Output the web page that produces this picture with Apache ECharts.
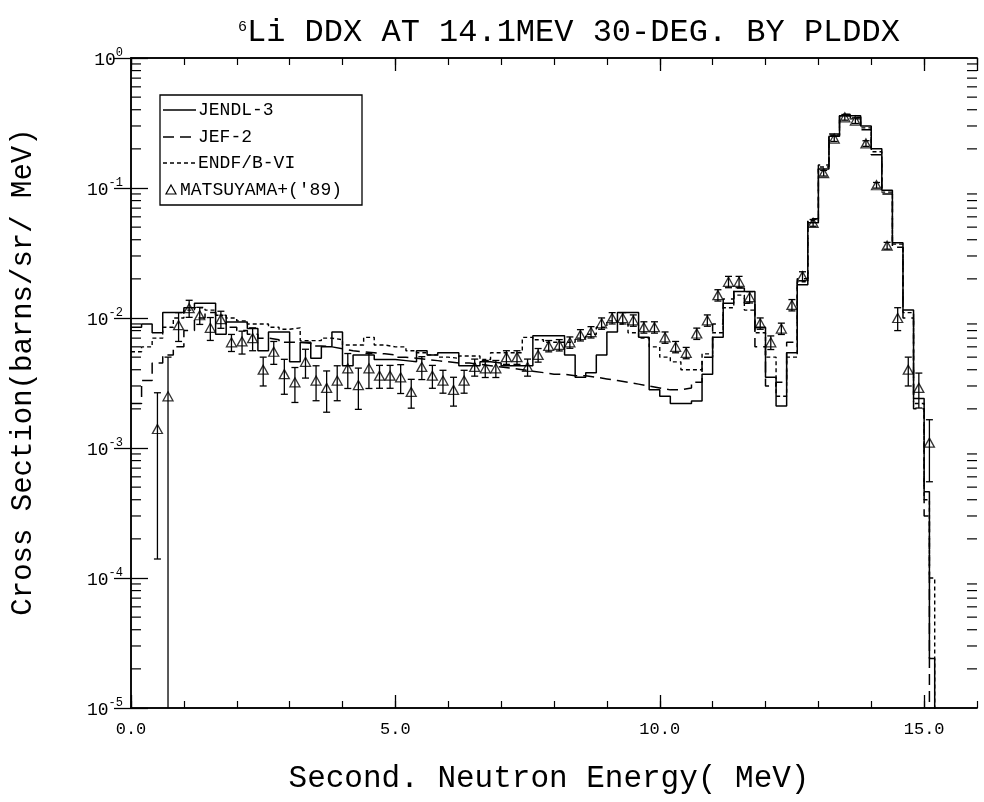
<!DOCTYPE html>
<html><head><meta charset="utf-8">
<script src="https://cdn.jsdelivr.net/npm/echarts@6.0.0/dist/echarts.min.js"></script>
<style>html,body{margin:0;padding:0;background:#fff}#c{width:984px;height:802px}</style>
</head><body><div id="c"></div>
<script>
const FONT = "'Liberation Mono','DejaVu Sans Mono',monospace";

// Histogram bin edges (MeV)
const binEdges = [0,0.2,0.4,0.6,0.8,1,1.2,1.4,1.6,1.8,2,2.2,2.4,2.6,2.8,3,3.2,3.4,3.6,3.8,4,4.2,4.4,4.6,4.8,5,5.2,5.4,5.6,5.8,6,6.2,6.4,6.6,6.8,7,7.2,7.4,7.6,7.8,8,8.2,8.4,8.6,8.8,9,9.2,9.4,9.6,9.8,10,10.2,10.4,10.6,10.8,11,11.2,11.4,11.6,11.8,12,12.2,12.4,12.6,12.8,13,13.2,13.4,13.6,13.8,14,14.2,14.4,14.6,14.8,15,15.1,15.2,15.6];

const jendl3 = [8.5e-3,9.0e-3,7.7e-3,1.1e-2,1.1e-2,1.2e-2,1.3e-2,1.3e-2,7.5e-3,9.3e-3,
 9.3e-3,8.3e-3,5.6e-3,7.8e-3,7.8e-3,4.6e-3,6.5e-3,4.9e-3,6.0e-3,7.8e-3,
 4.3e-3,5.2e-3,5.2e-3,4.8e-3,4.8e-3,4.7e-3,4.6e-3,5.6e-3,5.2e-3,5.4e-3,
 5.4e-3,4.3e-3,4.3e-3,4.6e-3,4.5e-3,4.3e-3,4.3e-3,4.3e-3,7.3e-3,7.3e-3,
 7.3e-3,5.2e-3,3.5e-3,3.8e-3,5.2e-3,7.8e-3,1.1e-2,1.1e-2,7.1e-3,2.8e-3,
 2.5e-3,2.2e-3,2.2e-3,2.3e-3,3.7e-3,7.1e-3,1.3e-2,1.6e-2,1.6e-2,8.5e-3,
 3.5e-3,2.1e-3,5.4e-3,1.8e-2,5.4e-2,0.14,0.25,0.36,0.36,0.30,
 0.20,0.096,0.038,1.15e-2,2.4e-3,4.6e-4,2.4e-5,1e-7];

const jef2 = [2.2e-3,3.3e-3,4.5e-3,5.2e-3,6.0e-3,8.0e-3,1.0e-2,1.1e-2,1.05e-2,8.5e-3,
 8.0e-3,7.5e-3,7.0e-3,6.8e-3,6.5e-3,6.5e-3,6.4e-3,6.1e-3,6.0e-3,5.8e-3,
 5.6e-3,5.5e-3,5.4e-3,5.3e-3,5.2e-3,5.0e-3,4.9e-3,4.8e-3,4.7e-3,4.6e-3,
 4.5e-3,4.5e-3,4.4e-3,4.3e-3,4.2e-3,4.1e-3,4.0e-3,3.9e-3,3.8e-3,3.7e-3,
 3.7e-3,3.6e-3,3.6e-3,3.5e-3,3.4e-3,3.3e-3,3.2e-3,3.1e-3,3.0e-3,2.9e-3,
 2.8e-3,2.8e-3,2.9e-3,3.2e-3,5.0e-3,9.0e-3,1.4e-2,1.7e-2,1.3e-2,6.0e-3,
 3.0e-3,3.2e-3,6.5e-3,2.0e-2,5.8e-2,0.15,0.26,0.37,0.35,0.28,
 0.18,0.09,0.035,1.0e-2,2.0e-3,3.0e-4,1e-7,1e-7];

const endfb6 = [5.5e-3,6.0e-3,7.0e-3,8.5e-3,1.0e-2,1.15e-2,1.2e-2,1.15e-2,1.05e-2,1.0e-2,
 9.5e-3,9.0e-3,9.0e-3,8.5e-3,8.2e-3,8.4e-3,6.7e-3,6.7e-3,7.0e-3,6.8e-3,
 6.2e-3,6.2e-3,7.1e-3,6.2e-3,6.0e-3,6.0e-3,5.6e-3,5.4e-3,5.2e-3,5.0e-3,
 4.9e-3,5.1e-3,5.1e-3,4.8e-3,5.4e-3,5.4e-3,5.4e-3,7.1e-3,6.8e-3,6.5e-3,
 6.5e-3,6.5e-3,7.0e-3,7.5e-3,8.5e-3,9.5e-3,9.0e-3,7.7e-3,7.0e-3,6.0e-3,
 5.0e-3,4.6e-3,4.0e-3,4.0e-3,5.3e-3,7.7e-3,1.2e-2,1.5e-2,1.15e-2,7.7e-3,
 5.0e-3,2.5e-3,5.0e-3,1.9e-2,5.6e-2,0.145,0.255,0.36,0.34,0.29,
 0.19,0.093,0.037,1.1e-2,2.2e-3,4.0e-4,1.0e-4,1e-7];

// Experiment (Matsuyama '89)
const expE = [0.5,0.7,0.9,1.1,1.3,1.5,1.7,1.9,2.1,2.3,2.5,2.7,2.9,3.1,3.3,3.5,3.7,3.9,4.1,4.3,4.5,4.7,4.9,5.1,5.3,5.5,5.7,5.9,6.1,6.3,6.5,6.7,6.9,7.1,7.3,7.5,7.7,7.9,8.1,8.3,8.5,8.7,8.9,9.1,9.3,9.5,9.7,9.9,10.1,10.3,10.5,10.7,10.9,11.1,11.3,11.5,11.7,11.9,12.1,12.3,12.5,12.7,12.9,13.1,13.3,13.5,13.7,13.9,14.1,14.3,14.5,14.7,14.9,15.1];
const expV = [1.4e-3,2.5e-3,8.8e-3,1.19e-2,1.05e-2,8.4e-3,9.8e-3,6.5e-3,6.6e-3,7.0e-3,
 4.0e-3,5.5e-3,3.7e-3,3.2e-3,4.6e-3,3.3e-3,2.9e-3,3.3e-3,4.1e-3,3.05e-3,
 4.1e-3,3.6e-3,3.6e-3,3.5e-3,2.7e-3,4.2e-3,3.6e-3,3.3e-3,2.8e-3,3.3e-3,
 4.2e-3,4.1e-3,4.1e-3,5.0e-3,5.0e-3,4.2e-3,5.2e-3,6.1e-3,6.2e-3,6.5e-3,
 7.4e-3,7.8e-3,9.1e-3,1.0e-2,1.0e-2,9.6e-3,8.5e-3,8.5e-3,7.1e-3,6.0e-3,
 5.4e-3,7.6e-3,9.6e-3,1.5e-2,1.9e-2,1.9e-2,1.45e-2,9.1e-3,6.5e-3,8.3e-3,
 1.26e-2,2.1e-2,5.4e-2,0.13,0.24,0.35,0.33,0.22,0.105,0.036,
 1.0e-2,4.0e-3,2.9e-3,1.1e-3];
const expRelErr = [0.9,1.0,0.25,0.15,0.15,0.2,0.15,0.15,0.2,0.2,
 0.25,0.2,0.3,0.3,0.25,0.3,0.35,0.3,0.3,0.35,
 0.3,0.2,0.2,0.25,0.25,0.2,0.2,0.2,0.25,0.2,
 0.15,0.15,0.15,0.12,0.12,0.15,0.12,0.1,0.1,0.1,
 0.1,0.1,0.1,0.1,0.1,0.1,0.1,0.1,0.1,0.1,
 0.1,0.1,0.1,0.1,0.1,0.1,0.1,0.1,0.12,0.1,
 0.1,0.08,0.06,0.05,0.05,0.05,0.05,0.05,0.05,0.06,
 0.2,0.25,0.3,0.5];

const xTickLabels = ['0.0','5.0','10.0','15.0'];
const yMin = 1e-5, yMax = 1;

function histPoints(vals){
  const pts = [];
  for (let i = 0; i < vals.length; i++){
    pts.push([binEdges[i], vals[i]]);
    pts.push([binEdges[i+1], vals[i]]);
  }
  return pts;
}
const expPts = expE.map((e,i)=>[e, expV[i]]);
const errPts = expE.map((e,i)=>{
  const lo = expV[i]*(1-expRelErr[i]), hi = expV[i]*(1+expRelErr[i]);
  return [e, Math.max(lo, yMin), hi, lo < yMin ? 0 : 1];
});
const minorY = [];
for (let k = -5; k < 0; k++) for (let m = 2; m <= 9; m++) minorY.push([0, m*Math.pow(10,k)]);

const chart = echarts.init(document.getElementById('c'), null, {renderer:'canvas'});
const axLine = {show:true, lineStyle:{color:'#000', width:1.5}};
const xBase = {type:'value', min:0, max:16, splitLine:{show:false}, axisLine:axLine};
const yBase = {type:'log', logBase:10, min:yMin, max:yMax, splitLine:{show:false}, axisLine:axLine};

chart.setOption({
  animation:false,
  backgroundColor:'#fff',
  grid:{left:131, right:7, top:58, bottom:94, containLabel:false},
  xAxis:[
    Object.assign({}, xBase, {position:'bottom', interval:5,
      axisTick:{show:true, inside:true, length:13, lineStyle:{color:'#000', width:1.3}},
      axisLabel:{show:true, margin:13, color:'#000', fontFamily:FONT, fontSize:17, showMaxLabel:false,
        formatter:v => (v % 5 === 0 && v <= 15) ? xTickLabels[v/5] : ''}}),
    Object.assign({}, xBase, {position:'bottom', interval:1,
      axisTick:{show:true, inside:true, length:7, lineStyle:{color:'#000', width:1.2}}, axisLabel:{show:false}}),
    Object.assign({}, xBase, {position:'top', interval:5,
      axisTick:{show:true, inside:true, length:13, lineStyle:{color:'#000', width:1.3}}, axisLabel:{show:false}}),
    Object.assign({}, xBase, {position:'top', interval:1,
      axisTick:{show:true, inside:true, length:7, lineStyle:{color:'#000', width:1.2}}, axisLabel:{show:false}})
  ],
  yAxis:[
    Object.assign({}, yBase, {position:'left',
      axisTick:{show:true, inside:true, length:17, lineStyle:{color:'#000', width:1.3}},
      axisLabel:{show:true, margin:8, color:'#000',
        formatter:v => { const e = Math.round(Math.log10(v)); return '{b|10}{s|' + (e === 0 ? '0' : ('-' + Math.abs(e))) + '}'; },
        rich:{ b:{fontFamily:FONT, fontSize:18, color:'#000', lineHeight:22, verticalAlign:'bottom'},
               s:{fontFamily:FONT, fontSize:12, color:'#000', lineHeight:12, verticalAlign:'top'} }}}),
    Object.assign({}, yBase, {position:'right',
      axisTick:{show:true, inside:true, length:17, lineStyle:{color:'#000', width:1.3}}, axisLabel:{show:false}})
  ],
  series:[
    {name:'JENDL-3', type:'line', data:histPoints(jendl3), symbol:'none', showSymbol:false, clip:true,
     lineStyle:{color:'#000', width:1.5, type:'solid'}, z:3},
    {name:'JEF-2', type:'line', data:histPoints(jef2), symbol:'none', showSymbol:false, clip:true,
     lineStyle:{color:'#000', width:1.5, type:[11,6]}, z:3},
    {name:'ENDF/B-VI', type:'line', data:histPoints(endfb6), symbol:'none', showSymbol:false, clip:true,
     lineStyle:{color:'#000', width:1.4, type:[4,3]}, z:3},
    {name:'errbars', type:'custom', data:errPts, encode:{x:0, y:[1,2]}, silent:true, z:4,
     renderItem:(params, api) => {
       const e = api.value(0), lo = api.value(1), hi = api.value(2), capLo = api.value(3);
       const pHi = api.coord([e, hi]), pLo = api.coord([e, lo]);
       const st = {stroke:'#000', lineWidth:1.3};
       const ch = [
         {type:'line', shape:{x1:pHi[0], y1:pHi[1], x2:pLo[0], y2:pLo[1]}, style:st},
         {type:'line', shape:{x1:pHi[0]-3.5, y1:pHi[1], x2:pHi[0]+3.5, y2:pHi[1]}, style:st}
       ];
       if (capLo) ch.push({type:'line', shape:{x1:pLo[0]-3.5, y1:pLo[1], x2:pLo[0]+3.5, y2:pLo[1]}, style:st});
       return {type:'group', children:ch};
     }},
    {name:"MATSUYAMA+('89)", type:'scatter', data:expPts, symbol:'triangle', symbolSize:[10,9], z:5,
     itemStyle:{color:'rgba(255,255,255,0)', borderColor:'#000', borderWidth:1.3}},
    {name:'yminor', type:'custom', data:minorY, encode:{x:0, y:1}, silent:true, clip:false, z:6,
     renderItem:(params, api) => {
       const v = api.value(1);
       const p0 = api.coord([0, v]), p1 = api.coord([16, v]);
       const st = {stroke:'#000', lineWidth:1.2};
       return {type:'group', children:[
         {type:'line', shape:{x1:p0[0], y1:p0[1], x2:p0[0]+10, y2:p0[1]}, style:st},
         {type:'line', shape:{x1:p1[0]-10, y1:p1[1], x2:p1[0], y2:p1[1]}, style:st}
       ]};
     }}
  ],
  graphic:[
    {type:'text', x:238, y:27, style:{text:'6', font:'15px ' + FONT, fill:'#000', textAlign:'left', textVerticalAlign:'middle', align:'left', verticalAlign:'middle'}},
    {type:'text', x:247, y:33, style:{text:'Li DDX AT 14.1MEV 30-DEG. BY PLDDX', font:'32px ' + FONT, fill:'#000', textAlign:'left', textVerticalAlign:'middle', align:'left', verticalAlign:'middle'}},
    {type:'text', x:549, y:779, style:{text:'Second. Neutron Energy( MeV)', font:'31px ' + FONT, fill:'#000', textAlign:'center', textVerticalAlign:'middle', align:'center', verticalAlign:'middle'}},
    {type:'text', x:23, y:372, rotation:Math.PI/2, style:{text:'Cross Section(barns/sr/ MeV)', font:'29px ' + FONT, fill:'#000', textAlign:'center', textVerticalAlign:'middle', align:'center', verticalAlign:'middle'}},
    {type:'rect', shape:{x:160, y:95, width:202, height:110}, style:{fill:'#fff', stroke:'#000', lineWidth:1.3}, z:100},
    {type:'line', shape:{x1:163, y1:110, x2:196, y2:110}, style:{stroke:'#000', lineWidth:1.4}, z:101},
    {type:'line', shape:{x1:163, y1:137, x2:196, y2:137}, style:{stroke:'#000', lineWidth:1.4, lineDash:[11,6]}, z:101},
    {type:'line', shape:{x1:163, y1:163, x2:196, y2:163}, style:{stroke:'#000', lineWidth:1.3, lineDash:[4,3]}, z:101},
    {type:'polygon', shape:{points:[[171,185],[176,194],[166,194]]}, style:{fill:'none', stroke:'#000', lineWidth:1.2}, z:101},
    {type:'text', x:198, y:110, z:101, style:{text:'JENDL-3', font:'18px ' + FONT, fill:'#000', textAlign:'left', textVerticalAlign:'middle', align:'left', verticalAlign:'middle'}},
    {type:'text', x:198, y:137, z:101, style:{text:'JEF-2', font:'18px ' + FONT, fill:'#000', textAlign:'left', textVerticalAlign:'middle', align:'left', verticalAlign:'middle'}},
    {type:'text', x:198, y:163, z:101, style:{text:'ENDF/B-VI', font:'18px ' + FONT, fill:'#000', textAlign:'left', textVerticalAlign:'middle', align:'left', verticalAlign:'middle'}},
    {type:'text', x:180, y:190, z:101, style:{text:"MATSUYAMA+('89)", font:'18px ' + FONT, fill:'#000', textAlign:'left', textVerticalAlign:'middle', align:'left', verticalAlign:'middle'}}
  ]
});
</script>
</body></html>
